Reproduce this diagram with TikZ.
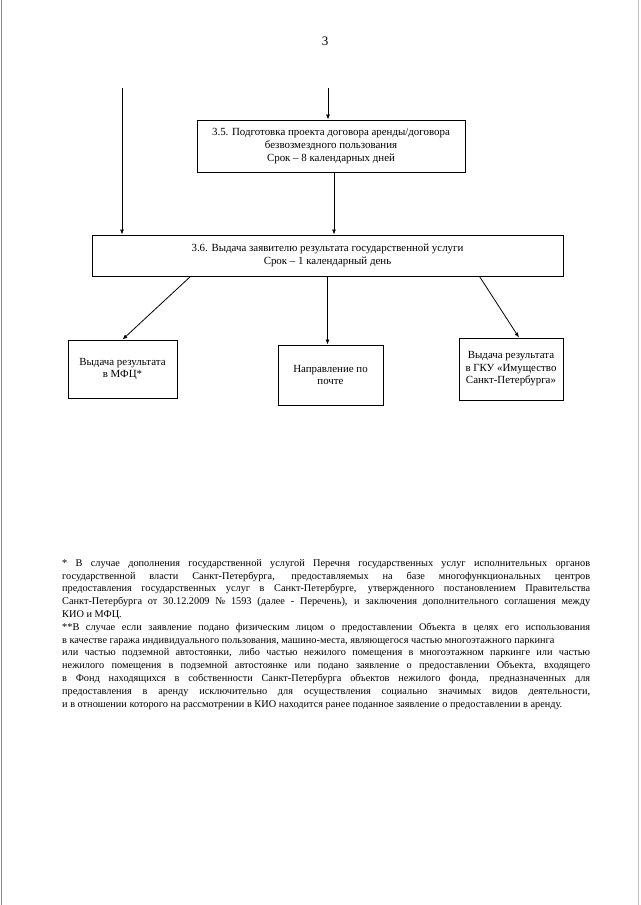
\documentclass[tikz,border=0pt]{standalone}
\usepackage{fontspec}
\setmainfont{Liberation Serif}
\usepackage{tikz}
\usetikzlibrary{arrows.meta}
\newcommand{\noteline}[1]{\makebox[528pt][s]{#1}}

\begin{document}
\begin{tikzpicture}[x=1pt, y=-1pt,
  stagebox/.style={draw, line width=0.9pt, align=center, inner sep=2pt, font=\fontsize{10.9}{12.6}\selectfont},
  flow/.style={line width=0.8pt, -{Latex[length=5pt, width=4pt]}}]
  \useasboundingbox (0,0) rectangle (640,905);
  % scan edges
  \draw[black!45, line width=1pt] (1,0) -- (1,905);
  \draw[black!25, line width=1pt] (638,0) -- (638,905);
  \node[font=\fontsize{13}{15}\selectfont] (pagenum) at (325,41) {3};
  \coordinate (topleft) at (122,88);
  \coordinate (topmid) at (328,88);
  \node[stagebox, minimum width=268pt, minimum height=52pt] (s35) at (331,146) {3.5. Подготовка проекта договора аренды/договора\\безвозмездного пользования\\Срок – 8 календарных дней};
  \node[stagebox, minimum width=471pt, minimum height=41pt] (s36) at (327.5,255.5) {3.6. Выдача заявителю результата государственной услуги\\Срок – 1 календарный день};
  \node[stagebox, minimum width=109pt, minimum height=58pt] (mfc) at (122.5,369) {Выдача результата\\в МФЦ*};
  \node[stagebox, minimum width=105pt, minimum height=60pt] (mail) at (330.5,375) {Направление по\\почте};
  \node[stagebox, minimum width=104pt, minimum height=62pt] (gku) at (511,369) {Выдача результата\\в ГКУ «Имущество\\Санкт-Петербурга»};
  \draw[flow] (topleft) -- (topleft |- s36.north);
  \draw[flow] (topmid) -- (topmid |- s35.north);
  \draw[flow] ([xshift=3pt]s35.south) -- ([xshift=3pt]s35.south |- s36.north);
  \draw[flow] ([xshift=-137pt]s36.south) -- (mfc.north);
  \draw[flow] (s36.south) -- (s36.south |- mail.north);
  \draw[flow] ([xshift=152pt]s36.south) -- ([xshift=8pt]gku.north);
  % footnotes
  \node[anchor=north west, inner sep=0pt, text width=528pt, align=justify, font=\fontsize{10.3}{12.8}\selectfont] (notes) at (62,559) {%
    \noteline{* В случае дополнения государственной услугой Перечня государственных услуг исполнительных органов}\\
    \noteline{государственной власти Санкт-Петербурга, предоставляемых на базе многофункциональных центров}\\
    \noteline{предоставления государственных услуг в Санкт-Петербурге, утвержденного постановлением Правительства}\\
    \noteline{Санкт-Петербурга от 30.12.2009 № 1593 (далее - Перечень), и заключения дополнительного соглашения между}\\
    КИО и МФЦ.\\
    \noteline{**В случае если заявление подано физическим лицом о предоставлении Объекта в целях его использования}\\
    в качестве гаража индивидуального пользования, машино-места, являющегося частью многоэтажного паркинга\\
    \noteline{или частью подземной автостоянки, либо частью нежилого помещения в многоэтажном паркинге или частью}\\
    \noteline{нежилого помещения в подземной автостоянке или подано заявление о предоставлении Объекта, входящего}\\
    \noteline{в Фонд находящихся в собственности Санкт-Петербурга объектов нежилого фонда, предназначенных для}\\
    \noteline{предоставления в аренду исключительно для осуществления социально значимых видов деятельности,}\\
    и в отношении которого на рассмотрении в КИО находится ранее поданное заявление о предоставлении в аренду.};
\end{tikzpicture}
\end{document}
